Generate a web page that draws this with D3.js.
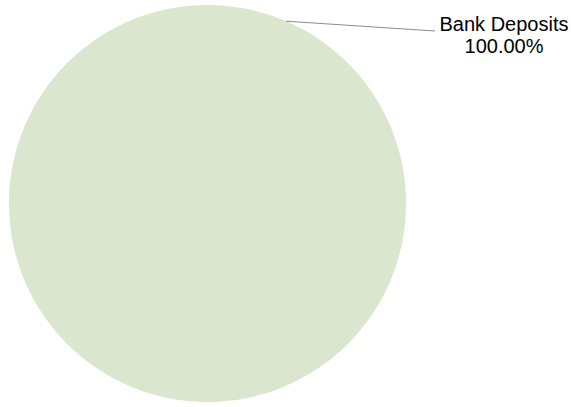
<!DOCTYPE html>
<html><head><meta charset="utf-8">
<script src="https://cdn.jsdelivr.net/npm/d3@7"></script>
<style>html,body{margin:0;padding:0;background:#fff;}svg{display:block;}</style>
</head><body>
<script>
const categories = ["Bank Deposits"];
const values = [100];
const colors = ["#dbe6cf"];

const W = 571, H = 407;
const cx = 207.5, cy = 203.5, R = 198.5;
const svg = d3.select("body").append("svg").attr("width", W).attr("height", H);
const g = svg.append("g").attr("transform", `translate(${cx},${cy})`);

const pie = d3.pie().sort(null).value(d => d);
const arcs = pie(values);
const arc = d3.arc().innerRadius(0).outerRadius(R);
const total = d3.sum(values);

g.selectAll("path").data(arcs).enter().append("path")
  .attr("d", arc).attr("fill", (d, i) => colors[i]);

// label with leader line
const labelAngle = 23.3 * Math.PI / 180;
arcs.forEach((d, i) => {
  const p0 = [Math.sin(labelAngle) * R, -Math.cos(labelAngle) * R];
  const p1 = [435 - cx, 31 - cy];
  g.append("line").attr("x1", p0[0]).attr("y1", p0[1]).attr("x2", p1[0]).attr("y2", p1[1])
    .attr("stroke", "#8c8c8c").attr("stroke-width", 1);
  const t = svg.append("text").attr("text-anchor", "middle")
    .attr("font-family", "Liberation Sans, Arial, sans-serif").attr("font-size", 20).attr("fill", "#000");
  t.append("tspan").attr("x", 504).attr("y", 31).text(categories[i]);
  t.append("tspan").attr("x", 504).attr("y", 53).text(d3.format(".2f")(d.value / total * 100) + "%");
});
</script>
</body></html>
